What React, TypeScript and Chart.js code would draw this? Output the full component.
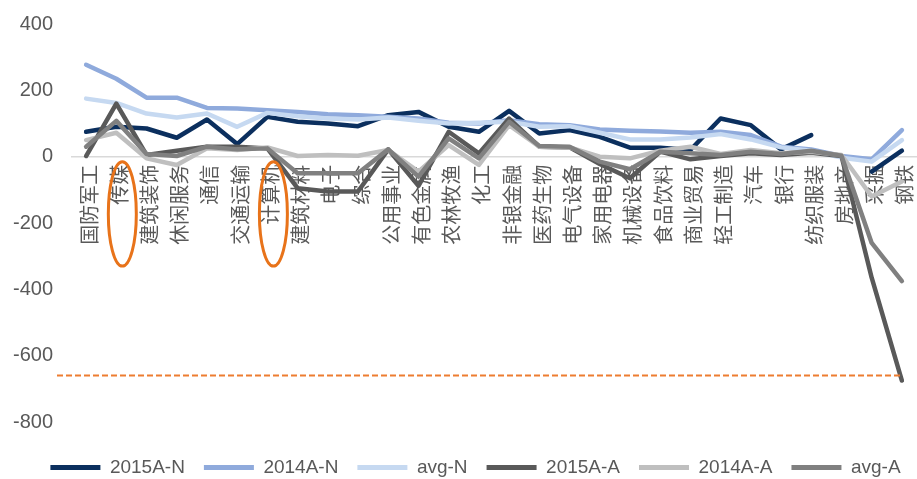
import React, { useEffect, useRef } from 'react';
import { Chart, registerables } from 'chart.js';

Chart.register(...registerables);

const categories = ['国防军工', '传媒', '建筑装饰', '休闲服务', '通信', '交通运输', '计算机', '建筑材料', '电子', '综合', '公用事业', '有色金属', '农林牧渔', '化工', '非银金融', '医药生物', '电气设备', '家用电器', '机械设备', '食品饮料', '商业贸易', '轻工制造', '汽车', '银行', '纺织服装', '房地产', '采掘', '钢铁'];

const s2015N = [75, 90, 85, 57, 112, 38, 120, 105, 100, 92, 125, 135, 90, 75, 138, 70, 80, 60, 27, 27, 20, 115, 95, 22, 65, null, -45, 18];
const s2014N = [277, 235, 178, 178, 147, 145, 140, 135, 128, 125, 120, 115, 102, 100, 110, 98, 95, 82, 78, 76, 72, 75, 65, 30, 22, 2, -8, 80];
const sAvgN = [175, 162, 130, 118, 130, 90, 132, 122, 115, 112, 118, 108, 100, 102, 105, 90, 92, 72, 52, 52, 58, 68, 52, 28, 18, -3, -15, 50];
const s2015A = [2, 160, 5, 18, 30, 30, 25, -95, -105, -105, 22, -88, 75, 10, 115, 30, 28, -22, -65, 15, -8, 2, 10, 5, 12, 2, -365, -675];
const s2014A = [50, 72, -5, -25, 25, 20, 28, 2, 5, 3, 20, -45, 35, -25, 95, 30, 28, 0, -5, 18, 30, 8, 20, 10, 15, 5, -120, -75];
const sAvgA = [30, 108, 8, 2, 30, 22, 25, -50, -50, -50, 22, -60, 55, -5, 105, 32, 30, -15, -38, 15, 10, 5, 15, 8, 18, 3, -260, -375];

const seriesNames = ['2015A-N', '2014A-N', 'avg-N', '2015A-A', '2014A-A', 'avg-A'];
const seriesColors = ['#0B2F5E', '#8FAADC', '#C6D9F1', '#595959', '#BFBFBF', '#808080'];
const seriesData = [s2015N, s2014N, sAvgN, s2015A, s2014A, sAvgA];

const yMin = -800;
const yMax = 400;
const yStep = 200;
const thresholdValue = -660;
const circledCategories = ['传媒', '计算机'];
const circleRange = [-15, -330];

const FONT = '"Liberation Sans", Arial, "Noto Sans CJK SC", sans-serif';
const TEXT = '#595959';

export default function App() {
  const ref = useRef<HTMLCanvasElement>(null);

  useEffect(() => {
    if (!ref.current) return;
    const overlay = {
      id: 'overlay',
      afterLayout(chart: any) {
        const lg = chart.legend;
        if (lg) {
          lg.left += 17;
          lg.right += 17;
        }
      },
      afterDatasetsDraw(chart: any) {
        const { ctx, chartArea, scales } = chart;
        const x = scales.x;
        const y = scales.y;
        ctx.save();
        const yy = y.getPixelForValue(thresholdValue);
        ctx.strokeStyle = '#ED7D31';
        ctx.lineWidth = 2;
        ctx.setLineDash([6, 3]);
        ctx.beginPath();
        ctx.moveTo(chartArea.left - 14, yy);
        ctx.lineTo(x.getPixelForValue(categories.length - 1), yy);
        ctx.stroke();
        ctx.setLineDash([]);
        ctx.strokeStyle = '#E8731A';
        ctx.lineWidth = 3;
        circledCategories.forEach((c) => {
          const i = categories.indexOf(c);
          const cx = x.getPixelForValue(i) + 6;
          const top = y.getPixelForValue(circleRange[0]);
          const bottom = y.getPixelForValue(circleRange[1]);
          ctx.beginPath();
          ctx.ellipse(cx, (top + bottom) / 2, 14, (bottom - top) / 2, 0, 0, Math.PI * 2);
          ctx.stroke();
        });
        ctx.restore();
      },
    };

    const chart = new Chart(ref.current, {
      type: 'line',
      data: {
        labels: categories,
        datasets: seriesData.map((d, i) => ({
          label: seriesNames[i],
          data: d,
          borderColor: seriesColors[i],
          backgroundColor: seriesColors[i],
          borderWidth: 4.5,
          pointRadius: 0,
          pointHoverRadius: 0,
          tension: 0,
          spanGaps: false,
          borderJoinStyle: 'round' as const,
          borderCapStyle: 'round' as const,
          order: seriesData.length - i,
        })),
      },
      options: {
        responsive: false,
        animation: false,
        layout: { padding: { top: 0, left: 0, right: 0, bottom: -8 } },
        plugins: {
          tooltip: { enabled: false },
          title: { display: false },
          legend: {
            position: 'bottom',
            title: { display: true, text: ' ', font: { size: 10, lineHeight: 1 }, padding: { top: 7, bottom: 0 } },
            labels: {
              boxWidth: 50,
              boxHeight: 5,
              padding: 19,
              color: TEXT,
              font: { family: FONT, size: 19 },
              sort: (a: any, b: any) => a.datasetIndex - b.datasetIndex,
              generateLabels: (chart: any) => {
                const items = Chart.defaults.plugins.legend.labels.generateLabels(chart);
                return items.map((it: any) => ({ ...it, fillStyle: it.strokeStyle, lineWidth: 0 }));
              },
            },
          },
        },
        scales: {
          x: {
            type: 'category',
            position: { y: 0 } as any,
            offset: true,
            afterFit: (scale: any) => {
              scale.paddingLeft = 0;
              scale.paddingRight = 0;
            },
            grid: { display: false, drawTicks: false },
            border: { display: false },
            ticks: {
              autoSkip: false,
              minRotation: 90,
              maxRotation: 90,
              padding: 8,
              labelOffset: 5,
              color: TEXT,
              font: { family: FONT, size: 20 },
            },
          },
          y: {
            min: yMin,
            max: yMax,
            afterFit: (scale: any) => {
              scale.width = 71;
              scale.paddingTop = 24;
              scale.paddingBottom = 0;
            },
            grid: {
              drawTicks: false,
              color: (c: any) => (c.tick && c.tick.value === 0 ? '#D9D9D9' : 'rgba(0,0,0,0)'),
              lineWidth: 1.5,
            },
            border: { display: false },
            ticks: {
              stepSize: yStep,
              padding: 18,
              color: TEXT,
              font: { family: FONT, size: 20 },
            },
          },
        },
      },
      plugins: [overlay],
    });
    return () => chart.destroy();
  }, []);

  return (
    <div style={{ position: 'fixed', left: 0, top: 0, width: 917, height: 479, background: '#fff' }}>
      <canvas ref={ref} width={917} height={479} style={{ display: 'block' }} />
    </div>
  );
}
